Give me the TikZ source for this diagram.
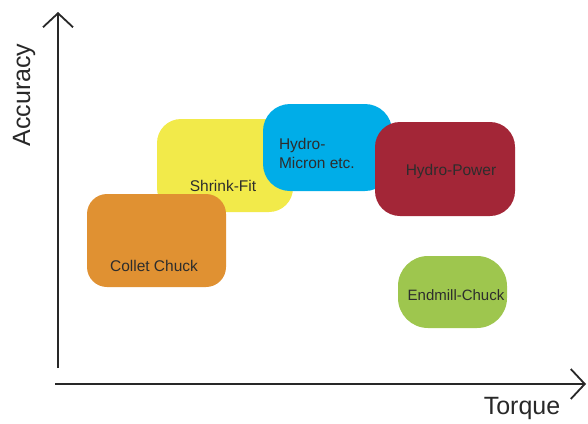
\documentclass[tikz,border=0pt]{standalone}
\usepackage{fontspec}
\setmainfont{Liberation Sans}
\usetikzlibrary{arrows.meta}

\definecolor{axisgray}{RGB}{40,40,40}
\definecolor{labelgray}{RGB}{45,45,45}
\definecolor{colletorange}{RGB}{224,145,50}
\definecolor{shrinkyellow}{RGB}{242,234,74}
\definecolor{microblue}{RGB}{0,173,232}
\definecolor{powerred}{RGB}{163,38,55}
\definecolor{endmillgreen}{RGB}{158,198,78}

\tikzset{
  axis/.style={draw=axisgray, line width=1.8pt,
    -{Straight Barb[length=14pt,width=30pt,line width=1.8pt]}},
  box/.style={rectangle, inner sep=0pt, draw=none},
  lbl/.style={text=labelgray, inner sep=0pt, font=\fontsize{15.5}{19}\selectfont},
  axislbl/.style={text=axisgray, inner sep=0pt, font=\fontsize{25}{30}\selectfont}
}

\begin{document}
\begin{tikzpicture}[x=1pt,y=-1pt]
\useasboundingbox (0,0) rectangle (588,423);

% axes
\coordinate (ybot) at (58,368);
\coordinate (ytop) at (58,12);
\coordinate (xleft) at (55,384);
\coordinate (xright) at (586,384);
\draw [axis] (ybot) -- (ytop);
\draw [axis] (xleft) -- (xright);

\node [axislbl, rotate=90] (accuracy) at (24,95) {Accuracy};
\node [axislbl] (torque) at (522,408) {Torque};

% holders
\node [box, fill=shrinkyellow, minimum width=136pt, minimum height=93pt,
  rounded corners=24pt, label={[lbl,xshift=-2pt,yshift=-20pt]center:Shrink-Fit}]
  (shrink) at (225,165.5) {};

\node [box, fill=colletorange, minimum width=139pt, minimum height=93pt,
  rounded corners=20pt, label={[lbl,xshift=-2.5pt,yshift=-25pt]center:Collet Chuck}]
  (collet) at (156.5,240.5) {};

\node [box, fill=microblue, minimum width=129pt, minimum height=87pt,
  rounded corners=27pt,
  label={[lbl,align=left,anchor=west,xshift=16pt,yshift=-6pt]west:Hydro-\\Micron etc.}]
  (micron) at (327.5,147.5) {};

\node [box, fill=powerred, minimum width=140pt, minimum height=94pt,
  rounded corners=25pt, label={[lbl,xshift=6pt,yshift=-2pt]center:Hydro-Power}]
  (power) at (445,169) {};

\node [box, fill=endmillgreen, minimum width=109pt, minimum height=72pt,
  rounded corners=30pt,
  label={[lbl,font=\fontsize{15}{18}\selectfont,xshift=3.5pt,yshift=-3pt]center:Endmill-Chuck}]
  (endmill) at (452.5,292) {};

\end{tikzpicture}
\end{document}
